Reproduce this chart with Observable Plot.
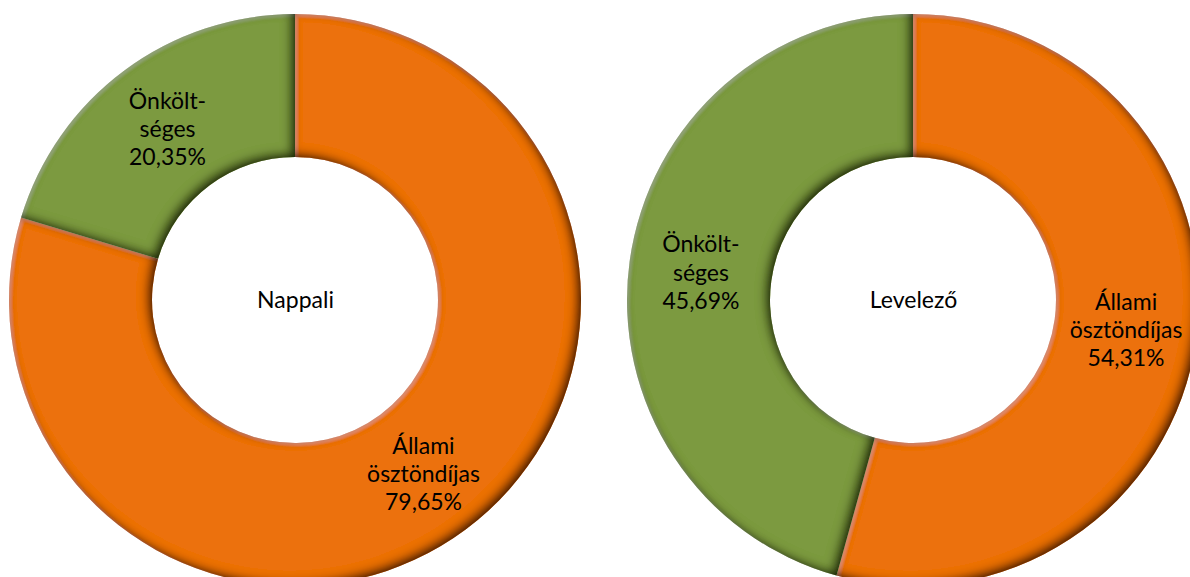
<!DOCTYPE html>
<html><head><meta charset="utf-8">
<script src="https://cdn.jsdelivr.net/npm/d3@7"></script>
<script src="https://cdn.jsdelivr.net/npm/@observablehq/plot@0.6"></script>
<style>body{margin:0;background:#fff} #chart svg{display:block}</style>
</head><body><div id="chart"></div>
<script>
// ---- data ----
const charts = ["Nappali", "Levelező"];
const categories = ["Állami ösztöndíjas", "Önköltséges"];
const categoryLabelLines = [["Állami", "ösztöndíjas"], ["Önkölt-", "séges"]];
const nappaliValues = [79.65, 20.35];
const levelezoValues = [54.31, 45.69];
const seriesValues = [nappaliValues, levelezoValues];
const colors = ["#EC710D", "#7B9A3F"];

// ---- layout (pixels) ----
const W = 1190, H = 577;
const CX = [295, 913], CY = 300, R_OUT = 286, HOLE = 0.5;
const k = CX[1] - CX[0];           // pixels per data unit (donut spacing = 1)
const R = R_OUT / k;                // outer radius in data units

const fmt = v => v.toFixed(2).replace(".", ",") + "%";

// build segment table from the arrays
const pie = d3.pie().sort(null).value(d => d.value);
const segments = [];
charts.forEach((chart, i) => {
  const rows = categories.map((c, j) => ({chart, cx: i, category: c, j, value: seriesValues[i][j], color: colors[j]}));
  pie(rows).forEach(a => {
    const mid = (a.startAngle + a.endAngle) / 2;
    const rm = R * (1 + HOLE) / 2;
    segments.push({
      ...a.data,
      startAngle: a.startAngle,
      endAngle: a.endAngle,
      lx: i + rm * Math.sin(mid),
      ly: rm * Math.cos(mid),
      label: [...categoryLabelLines[a.data.j], fmt(a.data.value)].join("\n")
    });
  });
});
const centers = charts.map((c, i) => ({chart: c, x: i, y: 0}));

// custom donut-arc mark using Plot scales
function donutArcs(data) {
  return (index, scales) => {
    const {x, y} = scales;
    const g = d3.create("svg:g");
    const defs = g.append("defs");
    const f = defs.append("filter").attr("id", "bevel")
      .attr("x", "-15%").attr("y", "-15%").attr("width", "130%").attr("height", "130%");
    f.append("feComponentTransfer").attr("in", "SourceAlpha").attr("result", "inv")
      .append("feFuncA").attr("type", "table").attr("tableValues", "1 0");
    // directional shadow (light from top-left)
    f.append("feGaussianBlur").attr("in", "inv").attr("stdDeviation", 5).attr("result", "blur");
    f.append("feOffset").attr("in", "blur").attr("dx", -5).attr("dy", -4).attr("result", "off");
    f.append("feFlood").attr("flood-color", "#000").attr("flood-opacity", 0.9).attr("result", "dark");
    f.append("feComposite").attr("in", "dark").attr("in2", "off").attr("operator", "in").attr("result", "sh1");
    f.append("feComposite").attr("in", "sh1").attr("in2", "SourceAlpha").attr("operator", "in").attr("result", "shadow1");
    // all-round soft edge
    f.append("feGaussianBlur").attr("in", "inv").attr("stdDeviation", 3.5).attr("result", "blur2");
    f.append("feFlood").attr("flood-color", "#000").attr("flood-opacity", 0.4).attr("result", "dark2");
    f.append("feComposite").attr("in", "dark2").attr("in2", "blur2").attr("operator", "in").attr("result", "sh2");
    f.append("feComposite").attr("in", "sh2").attr("in2", "SourceAlpha").attr("operator", "in").attr("result", "shadow2");
    // highlight on top-left edges
    f.append("feGaussianBlur").attr("in", "inv").attr("stdDeviation", 1.5).attr("result", "blur3");
    f.append("feOffset").attr("in", "blur3").attr("dx", 2).attr("dy", 2).attr("result", "off3");
    f.append("feFlood").attr("flood-color", "#fff").attr("flood-opacity", 0.2).attr("result", "light");
    f.append("feComposite").attr("in", "light").attr("in2", "off3").attr("operator", "in").attr("result", "hl");
    f.append("feComposite").attr("in", "hl").attr("in2", "SourceAlpha").attr("operator", "in").attr("result", "hl2");
    const m = f.append("feMerge");
    m.append("feMergeNode").attr("in", "SourceGraphic");
    m.append("feMergeNode").attr("in", "hl2");
    m.append("feMergeNode").attr("in", "shadow2");
    m.append("feMergeNode").attr("in", "shadow1");

    const arc = d3.arc();
    for (const d of data) {
      const cx = x(d.cx), cy = y(0);
      const ro = x(d.cx + R) - cx;
      g.append("path")
        .attr("transform", `translate(${cx},${cy})`)
        .attr("d", arc({innerRadius: ro * HOLE, outerRadius: ro, startAngle: d.startAngle, endAngle: d.endAngle}))
        .attr("fill", d.color)
        .attr("filter", "url(#bevel)");
    }
    return g.node();
  };
}

const chart = Plot.plot({
  width: W, height: H,
  margin: 0,
  style: {background: "#fff", fontFamily: "Lato, 'Open Sans', sans-serif"},
  x: {domain: [-CX[0] / k, (W - CX[0]) / k], range: [0, W], axis: null},
  y: {domain: [-(H - CY) / k, CY / k], range: [H, 0], axis: null},
  marks: [
    donutArcs(segments),
    Plot.text(segments, {x: "lx", y: "ly", text: "label", fontSize: 23, lineHeight: 1.22, fill: "#000", fontFamily: "Lato"}),
    Plot.text(centers, {x: "x", y: "y", text: "chart", fontSize: 23, fill: "#000", fontFamily: "Lato"})
  ]
});
document.getElementById("chart").append(chart);
</script>
</body></html>
